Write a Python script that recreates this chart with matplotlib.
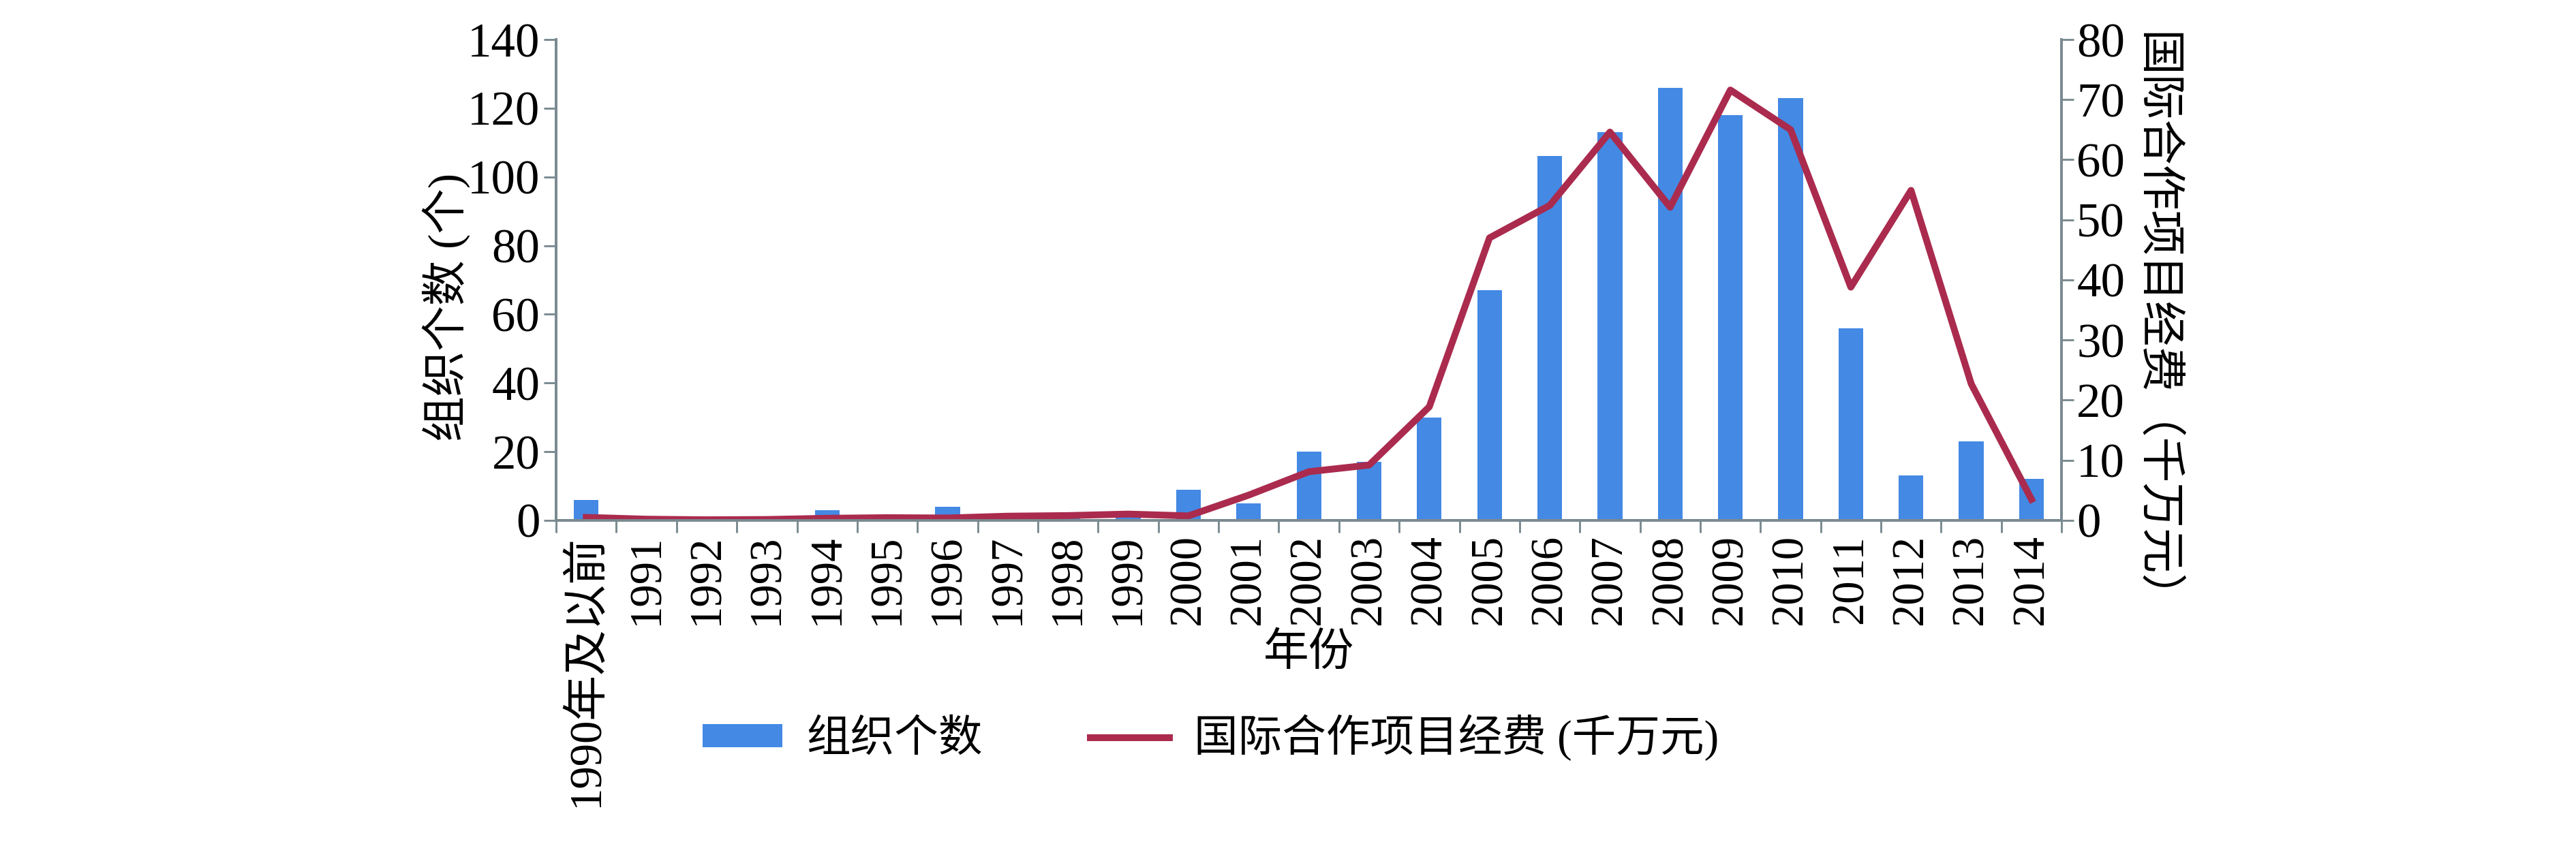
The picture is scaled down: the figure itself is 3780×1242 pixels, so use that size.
import numpy as np
import matplotlib
matplotlib.use("Agg")
import matplotlib.pyplot as plt
from matplotlib import font_manager

serif_font = "DejaVu Serif"
for name in ["Liberation Serif", "Times New Roman", "Nimbus Roman", "DejaVu Serif"]:
    try:
        font_manager.findfont(name, fallback_to_default=False)
        serif_font = name
        break
    except Exception:
        pass

plt.rcParams["font.family"] = [serif_font, "Noto Sans CJK SC"]

categories = ["1990年及以前", "1991", "1992", "1993", "1994", "1995", "1996",
              "1997", "1998", "1999", "2000", "2001", "2002", "2003", "2004",
              "2005", "2006", "2007", "2008", "2009", "2010", "2011", "2012",
              "2013", "2014"]
org_counts = [6, 1, 1, 0, 3, 0, 4, 0, 2, 2, 9, 5, 20, 17, 30, 67, 106, 113,
              126, 118, 123, 56, 13, 23, 12]
funding = [0.5, 0.2, 0.1, 0.15, 0.35, 0.45, 0.4, 0.7, 0.8, 1.05, 0.75, 4.2,
           8.1, 9.2, 18.9, 47.0, 52.4, 64.6, 52.1, 71.6, 65.0, 38.8, 54.9,
           22.7, 3.5]

bar_color = "#4489E4"
line_color = "#AA2B4E"
axis_color = "#7A8A90"

fig = plt.figure(figsize=(12.6, 4.14), dpi=300)
ax = fig.add_axes([0.2159, 0.3849, 0.5844, 0.5684])
ax2 = ax.twinx()

x = np.arange(len(categories))
bars = ax.bar(x, org_counts, width=0.41, color=bar_color, label="组织个数", zorder=2)
line, = ax2.plot(x, funding, color=line_color, linewidth=2.4,
                 label="国际合作项目经费 (千万元)")

ax.set_xlim(-0.5, len(categories) - 0.5)
ax.set_ylim(0, 140)
ax.set_yticks(np.arange(0, 141, 20))
ax2.set_ylim(0, 80)
ax2.set_yticks(np.arange(0, 81, 10))

ax.set_xticks(x)
ax.set_xticklabels(categories, rotation=90, fontsize=16)
ax.set_xticks(np.arange(-0.5, len(categories), 1), minor=True)
ax.tick_params(axis="x", which="major", length=0, pad=5)
ax.tick_params(axis="x", which="minor", length=4.3, width=0.7, color=axis_color)
ax.tick_params(axis="y", length=4.3, width=0.7, color=axis_color, pad=1.4, labelsize=17)
ax2.tick_params(axis="y", length=4.3, width=0.7, color=axis_color, pad=1.0, labelsize=17)

for a in (ax, ax2):
    a.spines["top"].set_visible(False)
    for s in ("left", "right", "bottom"):
        a.spines[s].set_color(axis_color)
        a.spines[s].set_linewidth(0.9)

ax.set_ylabel("组织个数 (个)", fontsize=16, va="center")
ax.yaxis.set_label_coords(-0.073, 0.443)
ax2.set_ylabel("国际合作项目经费（千万元）", fontsize=16, rotation=270, va="center")
ax2.yaxis.set_label_coords(1.062, 0.402)
ax.set_xlabel("年份", fontsize=16, va="center")
ax.xaxis.set_label_coords(0.5, -0.278)

fig.legend(handles=[bars, line], loc="center", bbox_to_anchor=(0.470, 0.128),
           ncol=2, frameon=False, fontsize=15.5, handlelength=1.8,
           handleheight=0.42, handletextpad=0.55, columnspacing=2.45)

fig.savefig("out.png", dpi=300)
